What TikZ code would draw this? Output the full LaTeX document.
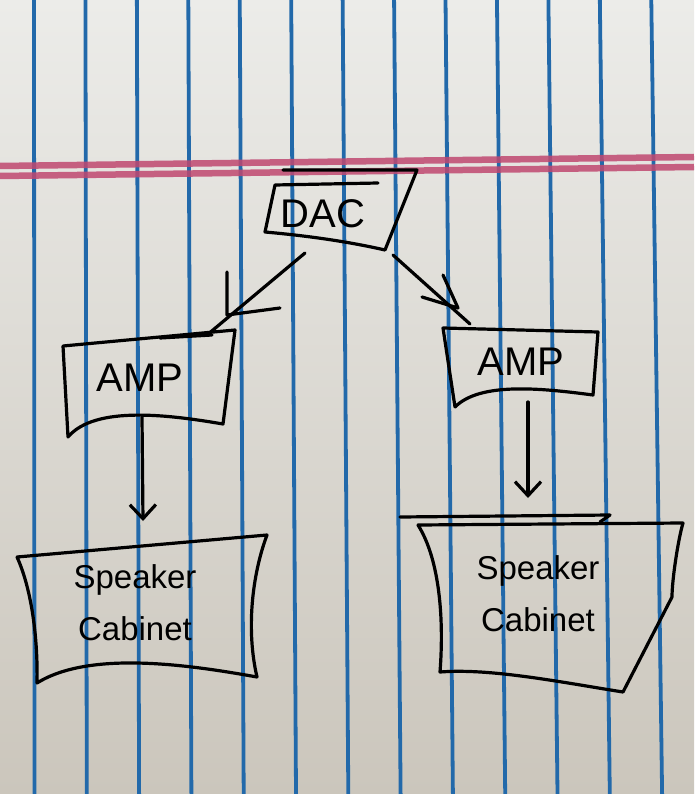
\documentclass[tikz,border=0pt]{standalone}
\usepackage{fontspec}
\setmainfont{Liberation Sans}
\usetikzlibrary{arrows.meta}
\definecolor{paperTop}{RGB}{236,236,233}
\definecolor{paperBot}{RGB}{203,198,188}
\definecolor{ruleBlue}{RGB}{34,105,170}
\definecolor{rulePink}{RGB}{192,72,112}
\tikzset{
  ink/.style={line width=3.2pt, line cap=round, line join=round, black},
  wire/.style={ink, -{Straight Barb[length=14pt,width=26pt,line width=3.2pt]}},
  bluerule/.style={line width=3.8pt, ruleBlue},
  pinkrule/.style={line width=6.5pt, rulePink, opacity=0.85},
  handtext/.style={font=\fontsize{40}{40}\selectfont, inner sep=0pt, align=center},
  cabtext/.style={font=\fontsize{33}{52}\selectfont, inner sep=0pt, align=center}
}
\begin{document}
\begin{tikzpicture}[x=1pt,y=-1pt]
% paper
\shade[top color=paperTop, bottom color=paperBot] (0,0) rectangle (694,794);
\useasboundingbox (0,0) rectangle (694,794);
% ruled lines
\foreach \i in {0,...,12} {
  \draw[bluerule] ({34+51.44*\i},0) -- ({34.5+52.3*\i},794);
}
\draw[pinkrule] (0,166) -- (694,157);
\draw[pinkrule] (0,176) -- (694,167);

% text nodes
\node[handtext] (dac)  at (323,214) {DAC};
\node[handtext] (ampL) at (140,378) {AMP};
\node[handtext] (ampR) at (521,362) {AMP};
\node[cabtext]  (spkL) at (135,603) {Speaker\\Cabinet};
\node[cabtext]  (spkR) at (538,594) {Speaker\\Cabinet};

% hand-drawn outlines
% DAC
\draw[ink] (378,183) -- (275,185) -- (265,232)
  .. controls (310,236) and (350,242) .. (385,250)
  -- (417,170) -- (283,170);
% left AMP
\draw[ink] (68,437) -- (63,346) -- (235,330) -- (223,424)
  .. controls (170,415) and (95,405) .. (68,437);
\draw[ink] (160,338) -- (212,335);
% right AMP
\draw[ink] (455,407) -- (443,328) -- (598,332) -- (593,395)
  .. controls (540,388) and (480,382) .. (455,407);
% left speaker cabinet
\draw[ink] (17,557) -- (267,535)
  .. controls (252,575) and (246,630) .. (257,677)
  .. controls (190,665) and (90,650) .. (37,683)
  .. controls (38,640) and (32,590) .. (17,557);
% right speaker cabinet
\draw[ink] (400,517) -- (610,515) -- (600,522);
\draw[ink] (418,525) -- (683,523)
  .. controls (678,540) and (672,580) .. (672,597)
  -- (623,692)
  .. controls (560,682) and (490,668) .. (440,672)
  .. controls (444,620) and (440,560) .. (418,525);

% connectors
\coordinate (dacL) at (305,253);
\coordinate (dacR) at (393,255);
\coordinate (ampLtop) at (207,335);
\coordinate (ampRtop) at (470,324);
\coordinate (ampLbot) at (142,417);
\coordinate (spkLtop) at (143,521);
\coordinate (ampRbot) at (528,402);
\coordinate (spkRtop) at (528,498);
\draw[ink] (dacL) -- (ampLtop);
\draw[ink] (227,272) -- (227,315) -- (280,308);
\draw[ink] (dacR) -- (ampRtop);
\draw[ink] (422,297) -- (458,308) -- (443,275);
\draw[wire] (ampLbot) -- (spkLtop);
\draw[wire] (ampRbot) -- (spkRtop);
\end{tikzpicture}
\end{document}
